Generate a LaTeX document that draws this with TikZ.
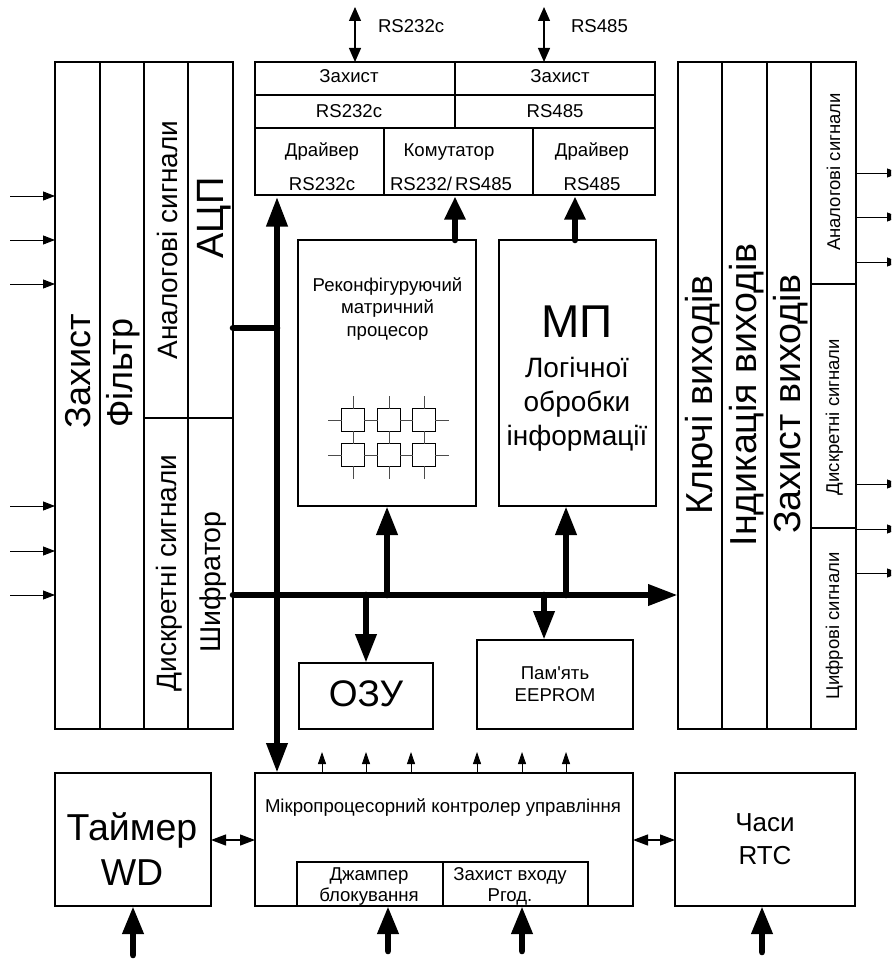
\documentclass[tikz,border=0pt]{standalone}
\usepackage{fontspec}
\setmainfont{Liberation Sans}
\usetikzlibrary{arrows.meta,calc}
\newcommand{\fz}[1]{\fontsize{#1}{#1}\selectfont}
\newcommand{\bx}[6][]{%
 \pgfmathsetmacro{\bxw}{#5-#3}\pgfmathsetmacro{\bxh}{#6-#4}%
 \pgfmathsetmacro{\bxx}{(#5+#3)/2}\pgfmathsetmacro{\bxy}{(#6+#4)/2}%
 \node[cell,minimum width=\bxw pt,minimum height=\bxh pt,#1] (#2) at (\bxx,\bxy) {};}
\tikzset{
 cell/.style={draw=black,line width=1.2pt,inner sep=0pt,outer sep=0pt,fill=white},
 lab/.style={inner sep=0pt,outer sep=0pt,anchor=base,text=black},
 mlab/.style={lab,font=\fz{18.6}},
 vlab/.style={lab,rotate=90},
 bus/.style={line width=6.6pt,line cap=round,-{Triangle[length=29pt,width=20pt]}},
 shortbus/.style={line width=6.6pt,line cap=round,-{Triangle[length=23pt,width=20pt]},shorten >=1.5pt},
 dbus/.style={line width=6.6pt,{Triangle[length=30pt,width=20pt]}-{Triangle[length=30pt,width=20pt]}},
 plainbus/.style={line width=6.6pt,line cap=round},
 thin arrow/.style={line width=0.9pt,-{Triangle[length=12pt,width=9pt]}},
 small up/.style={line width=0.8pt,-{Triangle[length=12pt,width=8pt]}},
 mid both/.style={line width=1.2pt,{Triangle[length=14pt,width=12pt]}-{Triangle[length=14pt,width=12pt]}},
 side both/.style={line width=1.2pt,{Triangle[length=15pt,width=11pt]}-{Triangle[length=15pt,width=11pt]}},
 stub/.style={line width=0.9pt,draw=black!70},
 sq/.style={cell,minimum size=22.5pt,line width=0.9pt},
}
\begin{document}
\begin{tikzpicture}[x=1pt,y=-1pt]
\useasboundingbox (0,0) rectangle (891,960);
\clip (0,0) rectangle (891,960);
\fill[white] (0,0) rectangle (891,960);
% left column
\bx{lz}{55}{62}{100}{729}\bx{lf}{100}{62}{144}{729}
\bx{la}{144}{62}{188}{418}\bx{ld}{144}{418}{188}{729}
\bx{lc}{188}{62}{233}{418}\bx{ls}{188}{418}{233}{729}
\node[vlab,font=\fz{36}] (tz) at (90,371) {Захист};
\node[vlab,font=\fz{36}] (tf) at (132,373) {Фільтр};
\node[vlab,font=\fz{28}] (ta) at (177,240) {Аналогові сигнали};
\node[vlab,font=\fz{38}] (tc) at (223,218) {АЦП};
\node[vlab,font=\fz{28}] (td) at (176,573) {Дискретні сигнали};
\node[vlab,font=\fz{28.6}] (ts) at (220,582) {Шифратор};
% top block
\bx{z1}{255}{62}{455}{95}\bx{z2}{455}{62}{655}{95}
\bx{r1}{255}{95}{455}{128}\bx{r2}{455}{95}{655}{128}
\bx{d1}{255}{128}{384}{195}\bx{k1}{384}{128}{533}{195}\bx{d2}{533}{128}{655}{195}
\node[mlab] at (349,83) {Захист};
\node[mlab] at (560,83) {Захист};
\node[mlab] at (349,118) {RS232c};
\node[mlab] at (555,118) {RS485};
\node[mlab] at (322,157) {Драйвер};
\node[mlab] at (322,190) {RS232c};
\node[mlab] at (449,157) {Комутатор};
\node[mlab] at (451,190) {RS232/\,RS485};
\node[mlab] at (592,157) {Драйвер};
\node[mlab] at (592,190) {RS485};
\coordinate (x1) at (355,7);\coordinate (x2) at (544,7);
\draw[mid both] (x1) -- (x1 |- z1.north);
\draw[mid both] (x2) -- (x2 |- z2.north);
\node[mlab,anchor=base west] (l232) at (378,33) {RS232c};
\node[mlab,anchor=base west] (l485) at (571,33) {RS485};
% processors
\bx{rp}{298}{240}{476}{506}\bx{mp}{499}{240}{656}{506}
\node[mlab] at (387.5,291) {Реконфігуруючий};
\node[mlab] at (387.5,313) {матричний};
\node[mlab] at (387.5,336) {процесор};
\node[lab,font=\fz{46}] at (577,337) {МП};
\node[lab,font=\fz{28}] at (577,377) {Логічної};
\node[lab,font=\fz{28}] at (577,411) {обробки};
\node[lab,font=\fz{28}] at (577,445) {інформації};
% matrix
\node[sq] (m11) at (353,420) {};\node[sq] (m12) at (389,420) {};\node[sq] (m13) at (424,420) {};
\node[sq] (m21) at (353,455) {};\node[sq] (m22) at (389,455) {};\node[sq] (m23) at (424,455) {};
\foreach \a/\b in {m11/m12,m12/m13,m21/m22,m22/m23,m11/m21,m12/m22,m13/m23}{\draw[stub] (\a) -- (\b);}
\foreach \a in {m11,m12,m13}{\draw[stub] (\a.north) -- ++(0,-13);}
\foreach \a in {m21,m22,m23}{\draw[stub] (\a.south) -- ++(0,13);}
\foreach \a in {m11,m21}{\draw[stub] (\a.west) -- ++(-14,0);}
\foreach \a in {m13,m23}{\draw[stub] (\a.east) -- ++(14,0);}
% right column
\bx{rk}{678}{62}{722}{729}\bx{ri}{722}{62}{767}{729}\bx{rz}{767}{62}{811}{729}
\bx{ra}{811}{62}{856}{284}\bx{rd}{811}{284}{856}{528}\bx{rc}{811}{528}{856}{729}
\node[vlab,font=\fz{37.6}] at (712,395) {Ключі виходів};
\node[vlab,font=\fz{37.6}] at (756,395) {Індикація виходів};
\node[vlab,font=\fz{37.6}] at (800,404) {Захист виходів};
\node[vlab,font=\fz{18.5}] at (840,172) {Аналогові сигнали};
\node[vlab,font=\fz{18.5}] at (839,417) {Дискретні сигнали};
\node[vlab,font=\fz{18.5}] at (839,626) {Цифрові сигнали};
% memories
\bx{oz}{299}{663}{433}{729}\bx{ee}{477}{640}{633}{729}
\node[lab,font=\fz{37}] at (366,706) {ОЗУ};
\node[mlab] at (555,679) {Пам\textquotesingle ять};
\node[mlab] at (555,701) {EEPROM};
% bottom row
\bx{wd}{55}{773}{211}{906}\bx{mc}{255}{773}{633}{906}\bx{rt}{675}{773}{855}{906}
\bx{j1}{297}{862}{443}{906}\bx{j2}{443}{862}{588}{906}
\node[lab,font=\fz{37.5}] at (132,840) {Таймер};
\node[lab,font=\fz{37.5}] at (132,885) {WD};
\node[mlab] at (443,812) {Мікропроцесорний контролер управління};
\node[mlab] at (369,880) {Джампер};
\node[mlab] at (369,901) {блокування};
\node[mlab] at (510,880) {Захист входу};
\node[mlab] at (510,901) {Ргод.};
\node[lab,font=\fz{26}] at (765,831) {Часи};
\node[lab,font=\fz{26}] at (765,864) {RTC};
% side arrows
\foreach \y in {196,240,284,506,551,595}{\coordinate (i) at (10,\y);\draw[thin arrow] (i) -- (i -| lz.west);}
\foreach \y in {173,217,262}{\coordinate (o) at (899,\y);\draw[thin arrow] (o -| ra.east) -- (o);}
\foreach \y in {484,529,573}{\coordinate (o) at (899,\y);\draw[thin arrow] (o -| rc.east) -- (o);}
% buses
\coordinate (bx) at (277,0);
\draw[dbus,shorten <=1.5pt] (bx |- d1.south) -- (bx |- mc.north);
\coordinate (b1) at (0,328);\coordinate (b2) at (0,595);
\draw[plainbus] (lc.east |- b1) -- (bx |- b1);
\draw[bus,-{Triangle[length=30pt,width=20pt]}] (ls.east |- b2) -- (rk.west |- b2);
\coordinate (c1) at (387,0);\coordinate (c2) at (366,0);\coordinate (c3) at (544,0);\coordinate (c4) at (566,0);
\draw[bus] (c1 |- b2) -- (c1 |- rp.south);
\draw[bus] (c2 |- b2) -- (c2 |- oz.north);
\draw[bus] (c3 |- b2) -- (c3 |- ee.north);
\draw[bus] (c4 |- b2) -- (c4 |- mp.south);
\coordinate (u1) at (455,0);\coordinate (u2) at (575,0);
\draw[shortbus] (u1 |- rp.north) -- (u1 |- k1.south);
\draw[shortbus] (u2 |- mp.north) -- (u2 |- d2.south);
% small up arrows
\foreach \x in {322,366,411,477,522,566}{\coordinate (u) at (\x,752);\draw[small up] (u |- mc.north) -- (u);}
% side links
\coordinate (s) at (0,840);
\draw[side both] (wd.east |- s) -- (mc.west |- s);
\draw[side both] (mc.east |- s) -- (rt.west |- s);
% bottom inputs
\foreach \x/\n/\e in {133/wd/955,388/j1/951,522/j2/951,762/rt/952}{\coordinate (f) at (\x,\e);\draw[bus,-{Triangle[length=28pt,width=20pt]}] (f) -- (f |- \n.south);}
\end{tikzpicture}
\end{document}
